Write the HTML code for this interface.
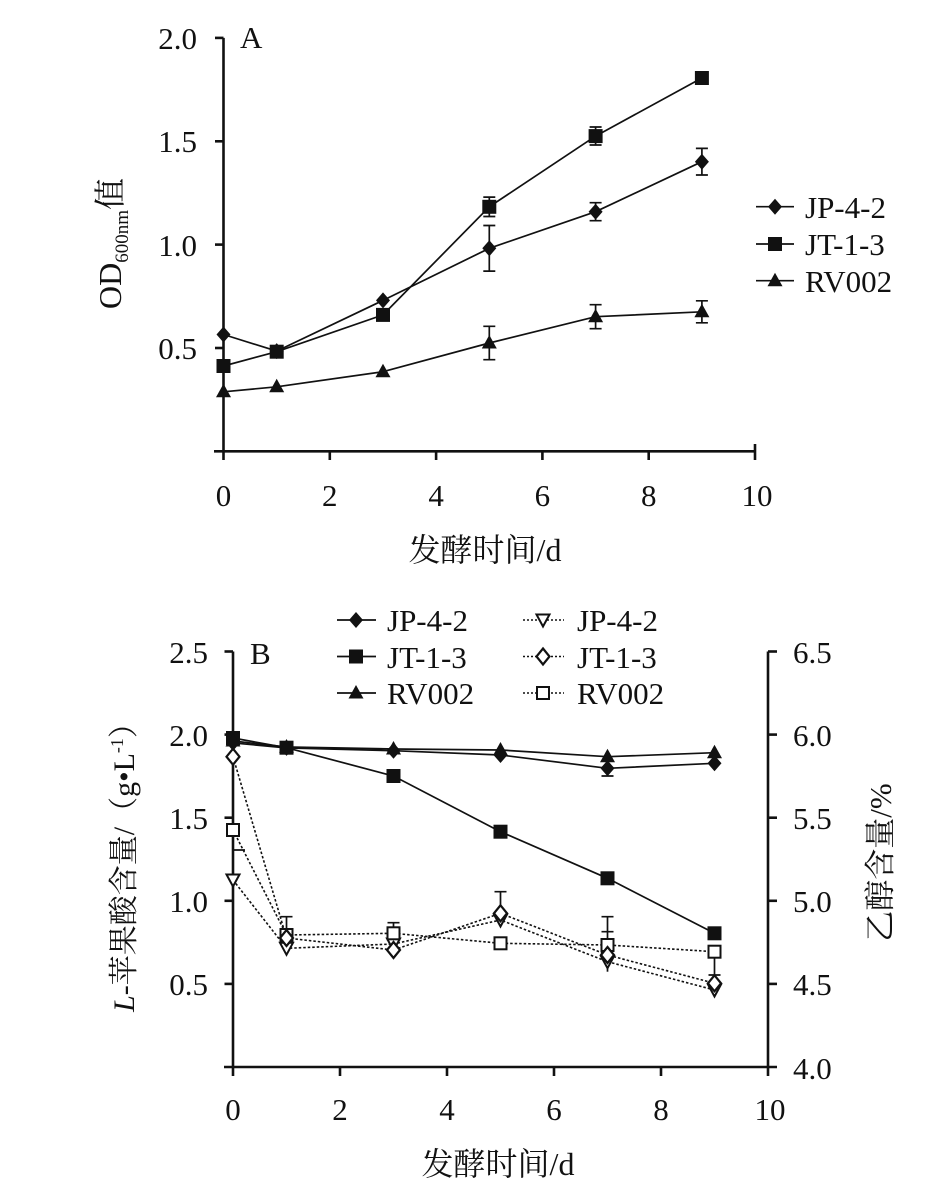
<!DOCTYPE html>
<html><head><meta charset="utf-8"><style>
html,body{margin:0;padding:0;background:#fff;}
svg{display:block;}
text{font-family:"Liberation Serif","Noto Serif CJK SC",serif;fill:#111;}
.cjk{font-family:"Liberation Serif","Noto Serif CJK SC","Noto Sans CJK SC",serif;}
</style></head><body>
<svg width="949" height="1199" viewBox="0 0 949 1199" xmlns="http://www.w3.org/2000/svg">
<defs>
<path id="fd" d="M0,-8 L7,0 L0,8 L-7,0 Z" fill="#111"/>
<rect id="fs" x="-7" y="-7" width="14" height="14" fill="#111"/>
<path id="ft" d="M0,-8 L7.5,5.5 L-7.5,5.5 Z" fill="#111"/>
<path id="ot" d="M-6.5,-5.5 L6.5,-5.5 L0,6.5 Z" fill="#fff" stroke="#111" stroke-width="2"/>
<path id="od" d="M0,-8 L6.5,0 L0,8 L-6.5,0 Z" fill="#fff" stroke="#111" stroke-width="2.2"/>
<rect id="os" x="-6" y="-6" width="12" height="12" fill="#fff" stroke="#111" stroke-width="2"/>
</defs>

<!-- ================= CHART A ================= -->
<g stroke="#111" stroke-width="2.6" fill="none">
  <line x1="223.5" y1="37.9" x2="223.5" y2="460"/>
  <line x1="214" y1="451.3" x2="756" y2="451.3"/>
  <line x1="215" y1="37.9" x2="223.5" y2="37.9"/>
  <line x1="215" y1="141.3" x2="223.5" y2="141.3"/>
  <line x1="215" y1="244.6" x2="223.5" y2="244.6"/>
  <line x1="215" y1="348" x2="223.5" y2="348"/>
  <line x1="329.8" y1="451.3" x2="329.8" y2="460"/>
  <line x1="436.1" y1="451.3" x2="436.1" y2="460"/>
  <line x1="542.4" y1="451.3" x2="542.4" y2="460"/>
  <line x1="648.7" y1="451.3" x2="648.7" y2="460"/>
  <line x1="755" y1="444" x2="755" y2="460"/>
</g>
<g font-size="31" text-anchor="end">
  <text x="197" y="49">2.0</text>
  <text x="197" y="152">1.5</text>
  <text x="197" y="256">1.0</text>
  <text x="197" y="359">0.5</text>
</g>
<g font-size="31" text-anchor="middle">
  <text x="223.5" y="506">0</text>
  <text x="329.8" y="506">2</text>
  <text x="436.1" y="506">4</text>
  <text x="542.4" y="506">6</text>
  <text x="648.7" y="506">8</text>
  <text x="757" y="506">10</text>
</g>
<text x="240" y="48" font-size="31">A</text>
<text x="485" y="561" font-size="32" text-anchor="middle" class="cjk">发酵时间/d</text>
<text transform="translate(121,243.5) rotate(-90)" font-size="32" text-anchor="middle" class="cjk">OD<tspan font-size="19" dy="7">600nm</tspan><tspan dy="-7">值</tspan></text>

<!-- A series lines -->
<g stroke="#111" stroke-width="1.7" fill="none">
  <polyline points="223.5,334.5 276.7,351.1 383,300.4 489.3,248.3 595.6,211.7 701.9,161.7"/>
  <polyline points="223.5,366 276.7,351.7 383,314.9 489.3,206.8 595.6,136.1 701.9,78"/>
  <polyline points="223.5,391.8 276.7,386.8 383,371.7 489.3,343 595.6,316.7 701.9,311.8"/>
</g>
<!-- A error bars -->
<g stroke="#111" stroke-width="1.7" fill="none">
  <path d="M489.3,225.5 V271.1 M483.3,225.5 H495.3 M483.3,271.1 H495.3"/>
  <path d="M595.6,202.7 V220.7 M589.6,202.7 H601.6 M589.6,220.7 H601.6"/>
  <path d="M701.9,148.4 V175 M695.9,148.4 H707.9 M695.9,175 H707.9"/>
  <path d="M489.3,197.1 V216.5 M483.3,197.1 H495.3 M483.3,216.5 H495.3"/>
  <path d="M595.6,127 V145 M589.6,127 H601.6 M589.6,145 H601.6"/>
  <path d="M701.9,72 V84 M695.9,72 H707.9 M695.9,84 H707.9"/>
  <path d="M489.3,326.3 V359.7 M483.3,326.3 H495.3 M483.3,359.7 H495.3"/>
  <path d="M595.6,304.7 V328.7 M589.6,304.7 H601.6 M589.6,328.7 H601.6"/>
  <path d="M701.9,300.8 V322.8 M695.9,300.8 H707.9 M695.9,322.8 H707.9"/>
</g>
<!-- A markers -->
<use href="#fd" x="223.5" y="334.5"/><use href="#fd" x="276.7" y="351.1"/><use href="#fd" x="383" y="300.4"/>
<use href="#fd" x="489.3" y="248.3"/><use href="#fd" x="595.6" y="211.7"/><use href="#fd" x="701.9" y="161.7"/>
<use href="#fs" x="223.5" y="366"/><use href="#fs" x="276.7" y="351.7"/><use href="#fs" x="383" y="314.9"/>
<use href="#fs" x="489.3" y="206.8"/><use href="#fs" x="595.6" y="136.1"/><use href="#fs" x="701.9" y="78"/>
<use href="#ft" x="223.5" y="391.8"/><use href="#ft" x="276.7" y="386.8"/><use href="#ft" x="383" y="371.7"/>
<use href="#ft" x="489.3" y="343"/><use href="#ft" x="595.6" y="316.7"/><use href="#ft" x="701.9" y="311.8"/>

<!-- A legend -->
<g stroke="#111" stroke-width="1.7">
  <line x1="756" y1="206.7" x2="794" y2="206.7"/>
  <line x1="756" y1="244" x2="794" y2="244"/>
  <line x1="756" y1="280.7" x2="794" y2="280.7"/>
</g>
<use href="#fd" x="775" y="206.7"/><use href="#fs" x="775" y="244"/><use href="#ft" x="775" y="280.7"/>
<g font-size="31">
  <text x="805" y="218">JP-4-2</text>
  <text x="805" y="255">JT-1-3</text>
  <text x="805" y="292">RV002</text>
</g>

<!-- ================= CHART B ================= -->
<g stroke="#111" stroke-width="2.6" fill="none">
  <line x1="233" y1="651.5" x2="233" y2="1076"/>
  <line x1="224" y1="1067" x2="777" y2="1067"/>
  <line x1="768" y1="651.5" x2="768" y2="1076"/>
  <line x1="224.5" y1="651.5" x2="233" y2="651.5"/>
  <line x1="224.5" y1="734.6" x2="233" y2="734.6"/>
  <line x1="224.5" y1="817.7" x2="233" y2="817.7"/>
  <line x1="224.5" y1="900.8" x2="233" y2="900.8"/>
  <line x1="224.5" y1="983.9" x2="233" y2="983.9"/>
  <line x1="768" y1="651.5" x2="777" y2="651.5"/>
  <line x1="768" y1="734.6" x2="777" y2="734.6"/>
  <line x1="768" y1="817.7" x2="777" y2="817.7"/>
  <line x1="768" y1="900.8" x2="777" y2="900.8"/>
  <line x1="768" y1="983.9" x2="777" y2="983.9"/>
  <line x1="340" y1="1067" x2="340" y2="1076"/>
  <line x1="447" y1="1067" x2="447" y2="1076"/>
  <line x1="554" y1="1067" x2="554" y2="1076"/>
  <line x1="661" y1="1067" x2="661" y2="1076"/>
</g>
<g font-size="31" text-anchor="end">
  <text x="208" y="663">2.5</text>
  <text x="208" y="746">2.0</text>
  <text x="208" y="829">1.5</text>
  <text x="208" y="912">1.0</text>
  <text x="208" y="995">0.5</text>
</g>
<g font-size="31">
  <text x="793" y="663">6.5</text>
  <text x="793" y="746">6.0</text>
  <text x="793" y="829">5.5</text>
  <text x="793" y="912">5.0</text>
  <text x="793" y="995">4.5</text>
  <text x="793" y="1079">4.0</text>
</g>
<g font-size="31" text-anchor="middle">
  <text x="233" y="1120">0</text>
  <text x="340" y="1120">2</text>
  <text x="447" y="1120">4</text>
  <text x="554" y="1120">6</text>
  <text x="661" y="1120">8</text>
  <text x="770" y="1120">10</text>
</g>
<text x="250" y="664" font-size="31">B</text>
<text x="498" y="1175" font-size="32" text-anchor="middle" class="cjk">发酵时间/d</text>
<text transform="translate(134,860) rotate(-90)" font-size="30" text-anchor="middle" class="cjk"><tspan font-style="italic">L</tspan>-苹果酸含量/（g•L<tspan font-size="18" dy="-11">-1</tspan><tspan dy="11">）</tspan></text>
<text transform="translate(891,862.5) rotate(-90)" font-size="31" text-anchor="middle" class="cjk">乙醇含量/%</text>

<!-- B solid lines -->
<g stroke="#111" stroke-width="1.7" fill="none">
  <polyline points="233,742.9 286.5,747.9 393.5,750.7 500.5,755 607.5,768.3 714.5,763.3"/>
  <polyline points="233,738 286.5,747.7 393.5,776 500.5,831.7 607.5,878.3 714.5,933.3"/>
  <polyline points="233,741 286.5,747 393.5,749 500.5,750 607.5,756.7 714.5,752.7"/>
</g>
<!-- B dotted lines -->
<g stroke="#111" stroke-width="1.6" fill="none" stroke-dasharray="2.5,2">
  <polyline points="233,880 286.5,948.3 393.5,944 500.5,920 607.5,961.7 714.5,990"/>
  <polyline points="233,756.7 286.5,938 393.5,950 500.5,913.3 607.5,955 714.5,983.3"/>
  <polyline points="233,830 286.5,935 393.5,933.3 500.5,943.3 607.5,945 714.5,951.7"/>
</g>
<!-- B error bars -->
<g stroke="#111" stroke-width="1.7" fill="none">
  <path d="M607.5,761 V776 M601.5,776 H613.5"/>
  <path d="M233,830 V850 M233,850 H245"/>
  <path d="M286.5,935 V916.7 M280.5,916.7 H292.5"/>
  <path d="M393.5,933.3 V922.7 M387.5,922.7 H399.5"/>
  <path d="M500.5,913.3 V891.7 M494.5,891.7 H506.5"/>
  <path d="M607.5,945 V916.7 M601.5,916.7 H613.5 M601.5,931.7 H613.5"/>
  <path d="M714.5,951.7 V975 M708.5,975 H720.5"/>
  <path d="M607.5,961.7 V971.7"/>
  <path d="M714.5,990 V996"/>
</g>
<!-- B open markers -->
<use href="#ot" x="233" y="880"/><use href="#ot" x="286.5" y="948.3"/><use href="#ot" x="393.5" y="944"/>
<use href="#ot" x="500.5" y="920"/><use href="#ot" x="607.5" y="961.7"/><use href="#ot" x="714.5" y="990"/>
<use href="#os" x="233" y="830"/><use href="#os" x="286.5" y="935"/><use href="#os" x="393.5" y="933.3"/>
<use href="#os" x="500.5" y="943.3"/><use href="#os" x="607.5" y="945"/><use href="#os" x="714.5" y="951.7"/>
<use href="#od" x="233" y="756.7"/><use href="#od" x="286.5" y="938"/><use href="#od" x="393.5" y="950"/>
<use href="#od" x="500.5" y="913.3"/><use href="#od" x="607.5" y="955"/><use href="#od" x="714.5" y="983.3"/>
<!-- B filled markers -->
<use href="#fd" x="233" y="742.9"/><use href="#fd" x="286.5" y="747.9"/><use href="#fd" x="393.5" y="750.7"/>
<use href="#fd" x="500.5" y="755"/><use href="#fd" x="607.5" y="768.3"/><use href="#fd" x="714.5" y="763.3"/>
<use href="#fs" x="233" y="738"/><use href="#fs" x="286.5" y="747.7"/><use href="#fs" x="393.5" y="776"/>
<use href="#fs" x="500.5" y="831.7"/><use href="#fs" x="607.5" y="878.3"/><use href="#fs" x="714.5" y="933.3"/>
<use href="#ft" x="233" y="741"/><use href="#ft" x="286.5" y="747"/><use href="#ft" x="393.5" y="749"/>
<use href="#ft" x="500.5" y="750"/><use href="#ft" x="607.5" y="756.7"/><use href="#ft" x="714.5" y="752.7"/>

<!-- B legends -->
<g stroke="#111" stroke-width="1.7">
  <line x1="337" y1="620" x2="376" y2="620"/>
  <line x1="337" y1="656.5" x2="376" y2="656.5"/>
  <line x1="337" y1="693" x2="376" y2="693"/>
</g>
<use href="#fd" x="356" y="620"/><use href="#fs" x="356" y="656.5"/><use href="#ft" x="356" y="693"/>
<g font-size="31">
  <text x="387" y="631">JP-4-2</text>
  <text x="387" y="668">JT-1-3</text>
  <text x="387" y="704">RV002</text>
</g>
<g stroke="#111" stroke-width="1.5" stroke-dasharray="2,2">
  <line x1="523" y1="620" x2="564" y2="620"/>
  <line x1="523" y1="656.5" x2="564" y2="656.5"/>
  <line x1="523" y1="693" x2="564" y2="693"/>
</g>
<use href="#ot" x="543" y="620"/><use href="#od" x="543" y="656.5"/><use href="#os" x="543" y="693"/>
<g font-size="31">
  <text x="577" y="631">JP-4-2</text>
  <text x="577" y="668">JT-1-3</text>
  <text x="577" y="704">RV002</text>
</g>
</svg>
</body></html>
